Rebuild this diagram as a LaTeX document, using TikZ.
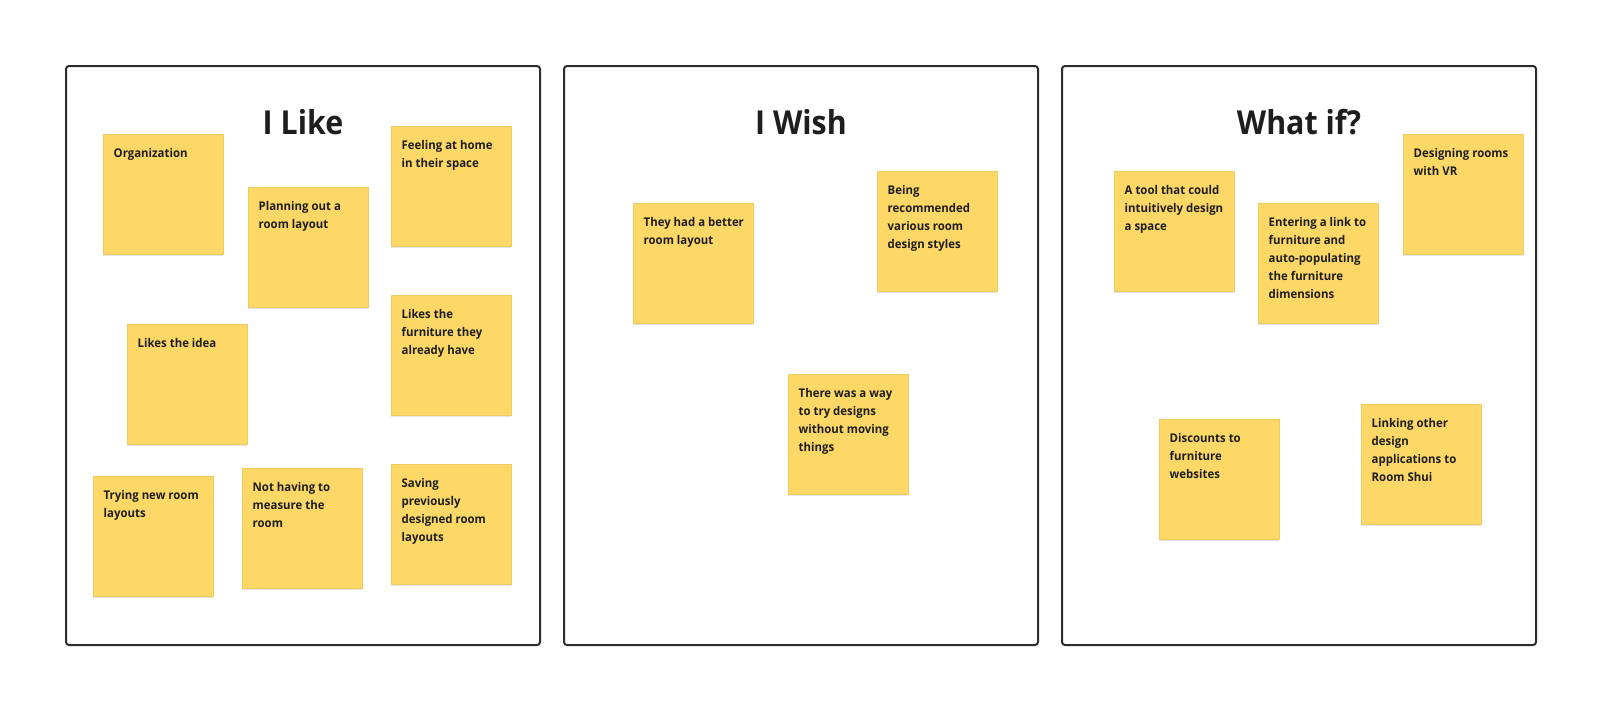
\documentclass[tikz,border=0pt]{standalone}
\usepackage{fontspec}
\setmainfont{Open Sans}
\newfontfamily\titlefont[FakeStretch=0.92]{Open Sans}
\newfontfamily\stickyfont[FakeStretch=0.95]{Open Sans}
\usetikzlibrary{shadows}
\definecolor{framec}{HTML}{2D2D2D}
\definecolor{notefill}{HTML}{FDD867}
\definecolor{noteline}{HTML}{EDCB62}
\definecolor{inkc}{HTML}{1E1E1E}
\tikzset{
  frame/.style={draw=framec, line width=2pt, rounded corners=3pt, fill=white,
    minimum width=474pt, minimum height=579pt, anchor=north west, inner sep=0pt},
  title/.style={font=\titlefont\fontsize{33}{40}\selectfont\bfseries, text=inkc, anchor=base, inner sep=0pt},
  note/.style={fill=notefill, draw=noteline, line width=0.4pt, minimum width=120pt, minimum height=120pt,
    anchor=north west, inner sep=0pt,
    drop shadow={shadow xshift=0pt, shadow yshift=-2pt, opacity=0.10, fill=black}},
  notetext/.style={font=\stickyfont\fontsize{12}{18}\selectfont\bfseries, text=inkc, align=left,
    anchor=north west, inner sep=0pt},
}
\newcommand{\sticky}[3]{%
  \node[note] (#1) at (#2) {};
  \node[notetext] (#1t) at ([xshift=10.5pt, yshift=-14pt]#1.north west) {#3};
}
\begin{document}
\begin{tikzpicture}[x=1pt,y=-1pt]
\useasboundingbox (0,0) rectangle (1600,710);
\fill[white] (0,0) rectangle (1600,710);

\node[frame] (f1) at (65,65) {};
\node[frame] (f2) at (563,65) {};
\node[frame] (f3) at (1061,65) {};

\node[title] (t1) at ([yshift=-69pt]f1.north) {I Like};
\node[title] (t2) at ([yshift=-69pt]f2.north) {I Wish};
\node[title] (t3) at ([yshift=-69pt]f3.north) {What if?};

% I Like
\sticky{a1}{103,134}{Organization}
\sticky{a2}{248,187}{Planning out a\\room layout}
\sticky{a3}{391,126}{Feeling at home\\in their space}
\sticky{a4}{391,295}{Likes the\\furniture they\\already have}
\sticky{a5}{127,324}{Likes the idea}
\sticky{a6}{93,476}{Trying new room\\layouts}
\sticky{a7}{242,468}{Not having to\\measure the\\room}
\sticky{a8}{391,464}{Saving\\previously\\designed room\\layouts}

% I Wish
\sticky{b1}{633,203}{They had a better\\room layout}
\sticky{b2}{877,171}{Being\\recommended\\various room\\design styles}
\sticky{b3}{788,374}{There was a way\\to try designs\\without moving\\things}

% What if?
\sticky{c1}{1114,171}{A tool that could\\intuitively design\\a space}
\sticky{c2}{1258,203}{Entering a link to\\furniture and\\auto-populating\\the furniture\\dimensions}
\sticky{c3}{1403,134}{Designing rooms\\with VR}
\sticky{c4}{1159,419}{Discounts to\\furniture\\websites}
\sticky{c5}{1361,404}{Linking other\\design\\applications to\\Room Shui}
\end{tikzpicture}
\end{document}
